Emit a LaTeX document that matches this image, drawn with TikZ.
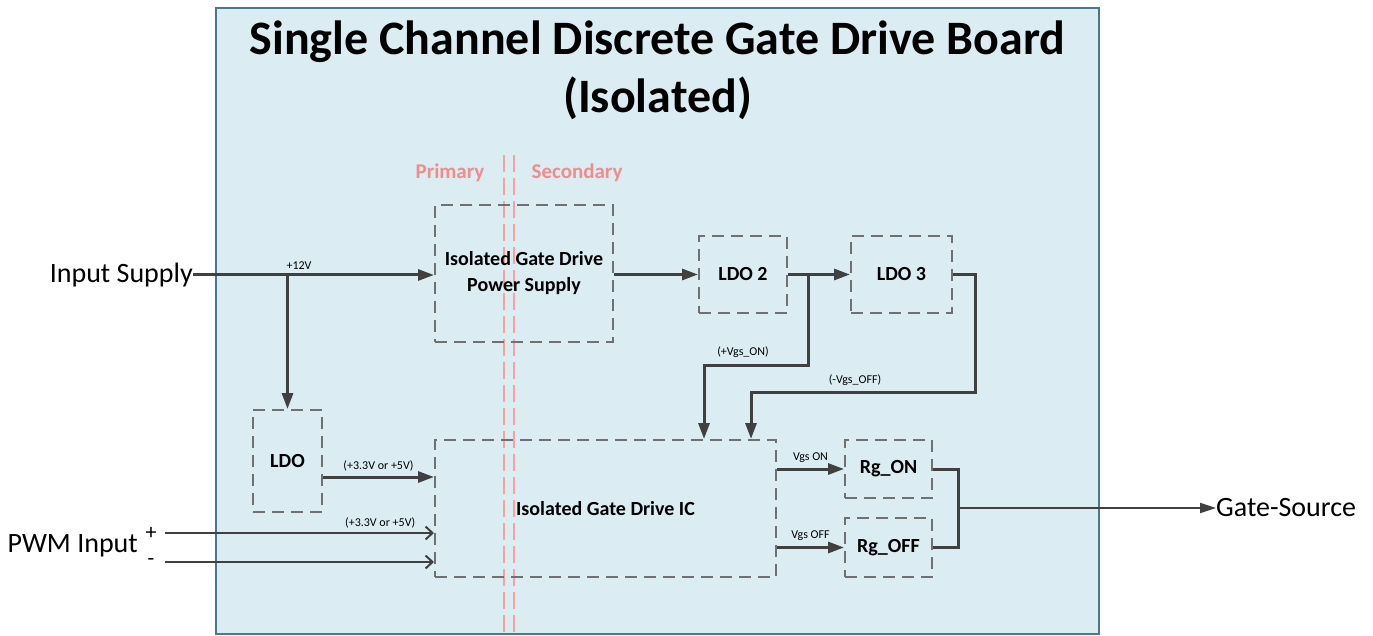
\documentclass[tikz,border=0pt]{standalone}
\usepackage{fontspec}
\setmainfont{Carlito}
\usetikzlibrary{arrows.meta,positioning,calc}
\definecolor{boardfill}{RGB}{219,237,243}
\definecolor{boardedge}{RGB}{70,122,140}
\definecolor{wirecolor}{RGB}{64,64,64}
\definecolor{boxedge}{RGB}{112,112,112}
\definecolor{isocolor}{RGB}{242,140,138}

\tikzset{
  blockbox/.style={draw=boxedge, line width=2pt, dash pattern=on 12pt off 7pt,
    align=center, inner sep=0pt, font=\fontsize{20}{26}\selectfont\bfseries},
  smallbox/.style={blockbox, font=\fontsize{20}{24}\selectfont\bfseries},
  wire/.style={draw=wirecolor, line width=3pt},
  feed/.style={wire, -{Triangle[length=16pt,width=11pt]}},
  sigfeed/.style={wire, line width=2.5pt, -{Straight Barb[length=7pt,width=13pt,line width=2pt]}},
  outfeed/.style={wire, line width=2pt, -{Triangle[length=16pt,width=10pt]}},
  tag/.style={inner sep=1pt, font=\fontsize{12}{14}\selectfont},
  iotext/.style={inner sep=0pt, font=\fontsize{28}{32}\selectfont},
  isolabel/.style={text=isocolor, font=\fontsize{21}{24}\selectfont\bfseries}
}

\begin{document}
\begin{tikzpicture}[x=1pt, y=-1pt]
\useasboundingbox (0,0) rectangle (1373,636);

% board
\node[
draw=boardedge,
fill=boardfill,
line width=2.5pt,
minimum width=883pt,
minimum height=626pt,
inner sep=0pt
] (board) at (657.5,321) {};
\node[
align=center,
font=\fontsize{48}{58}\selectfont\bfseries
] (title) at (657.5,70) {Single Channel Discrete Gate Drive Board\\(Isolated)};

% isolation barrier
\node[isolabel] (prim) at (450,173) {Primary};
\node[isolabel] (sec) at (577,173) {Secondary};
\coordinate (barA) at (504,155);
\coordinate (barB) at (514,155);
\draw[isocolor!80, line width=1.2pt, dash pattern=on 17pt off 6pt] (barA) -- (barA |- board.south);
\draw[isocolor!80, line width=1.2pt, dash pattern=on 17pt off 6pt] (barB) -- (barB |- board.south);

% blocks
\node[blockbox, minimum width=178pt, minimum height=137pt] (psu) at (524,273.5) {Isolated Gate Drive\\Power Supply};
\node[smallbox, minimum width=88pt, minimum height=77pt] (ldotwo) at (743,274.5) {LDO 2};
\node[smallbox, minimum width=101pt, minimum height=77pt] (ldothree) at (901.5,274.5) {LDO 3};
\node[smallbox, minimum width=69pt, minimum height=102pt] (ldo) at (287.5,461) {LDO};
\node[blockbox, minimum width=341pt, minimum height=137pt] (gdic) at (605.5,508.5) {Isolated Gate Drive IC};
\node[smallbox, minimum width=87pt, minimum height=58pt] (rgon) at (888.5,469) {Rg\_ON};
\node[smallbox, minimum width=87pt, minimum height=59pt] (rgoff) at (888.5,547.5) {Rg\_OFF};

% outside texts
\node[iotext, anchor=east] (insup) at (193,275) {Input Supply};
\node[iotext, anchor=east] (pwm) at (138,546) {PWM Input};
\node[iotext, font=\fontsize{22}{22}\selectfont] (pwmp) at (151,533) {+};
\node[iotext, font=\fontsize{22}{22}\selectfont] (pwmm) at (151,562) {-};
\node[iotext, anchor=west] (gs) at (1216,508) {Gate-Source};

% supply path
\draw[feed] (insup.east) -- (psu.west |- insup.east) node[tag, pos=0.44, above=3pt] {+12V};
\draw[feed] (ldo.north |- insup.east) -- (ldo.north);
\draw[feed] (psu.east |- ldotwo.west) -- (ldotwo.west);
\draw[feed] (ldotwo.east) -- (ldothree.west);

% gate voltages
\coordinate (ontap) at (808,274.5);
\coordinate (onbend) at (704,365);
\coordinate (offtap) at (975,274.5);
\coordinate (offbend) at (751,392);
\draw[feed] (ontap) |- (onbend) -- (onbend |- gdic.north);
\node[tag] (onlbl) at (743,352) {(+Vgs\_ON)};
\draw[feed] (ldothree.east) -- (offtap) |- (offbend) -- (offbend |- gdic.north);
\node[tag] (offlbl) at (855,380) {(-Vgs\_OFF)};

% logic side
\draw[feed] (ldo.east |- 0,477) -- (gdic.west |- 0,477) node[tag, midway, above=3pt] {(+3.3V or +5V)};
\draw[sigfeed] (165,533) -- (gdic.west |- 0,533) node[tag, pos=0.8, above=3pt] {(+3.3V or +5V)};
\draw[sigfeed] (165,562) -- (gdic.west |- 0,562);

% gate resistors
\draw[feed] (gdic.east |- rgon.west) -- (rgon.west) node[tag, midway, above=4pt] {Vgs ON};
\draw[feed] (gdic.east |- rgoff.west) -- (rgoff.west) node[tag, midway, above=4pt] {Vgs OFF};
\coordinate (join) at (958,508);
\draw[wire] (rgon.east) -| (join) |- (rgoff.east);
\draw[outfeed] (join) -- (gs.west);
\end{tikzpicture}
\end{document}
